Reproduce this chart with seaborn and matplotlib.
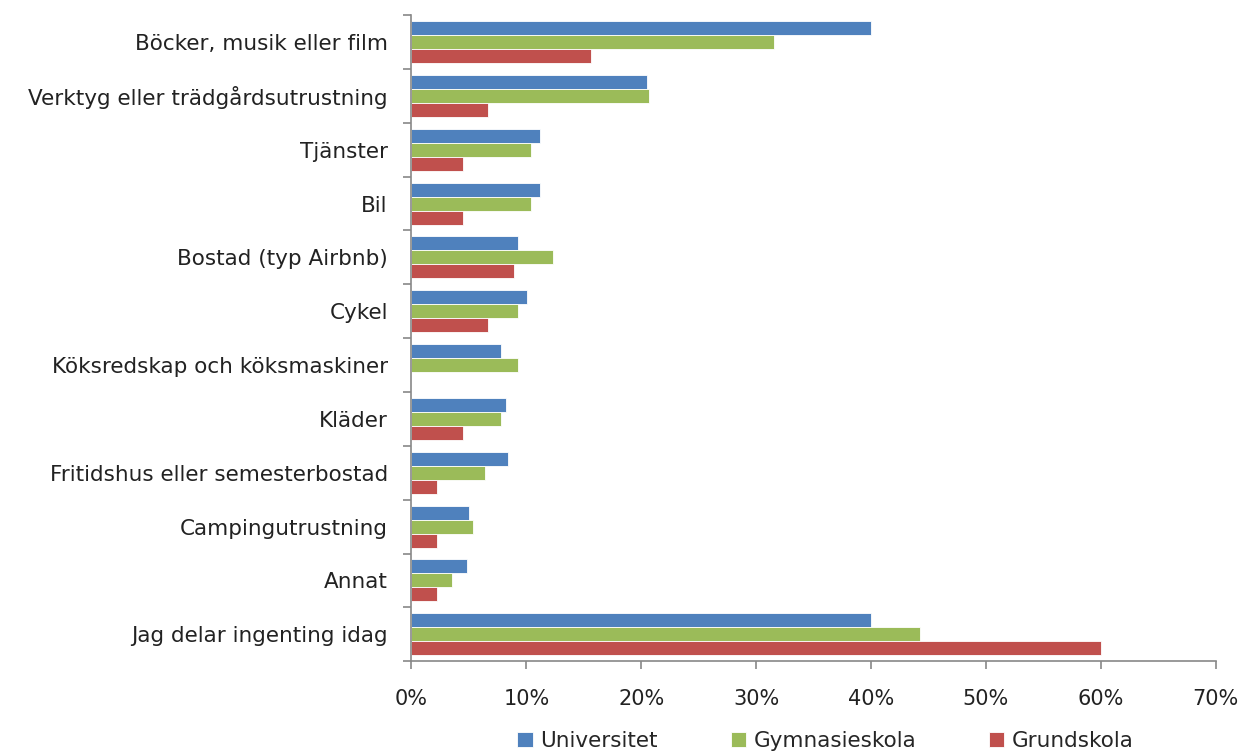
import matplotlib.pyplot as plt
import numpy as np
import pandas as pd
import seaborn as sns
from matplotlib.ticker import PercentFormatter

categories = ['Böcker, musik eller film', 'Verktyg eller trädgårdsutrustning', 'Tjänster', 'Bil',
              'Bostad (typ Airbnb)', 'Cykel', 'Köksredskap och köksmaskiner', 'Kläder',
              'Fritidshus eller semesterbostad', 'Campingutrustning', 'Annat', 'Jag delar ingenting idag']
universitet = [40.0, 20.5, 11.2, 11.2, 9.3, 10.1, 7.8, 8.2, 8.4, 5.0, 4.8, 40.0]
gymnasieskola = [31.6, 20.7, 10.4, 10.4, 12.3, 9.3, 9.3, 7.8, 6.4, 5.4, 3.5, 44.3]
grundskola = [15.6, 6.7, 4.5, 4.5, 8.9, 6.7, 0.0, 4.5, 2.2, 2.2, 2.2, 60.0]
series = ['Universitet', 'Gymnasieskola', 'Grundskola']
colors = ['#4F81BD', '#9BBB59', '#C0504D']

# long form table for seaborn
df = pd.DataFrame({'Kategori': categories * 3,
                   'Grupp': np.repeat(series, len(categories)),
                   'Andel': universitet + gymnasieskola + grundskola})

sns.set_theme(style='white')
plt.rcParams['font.family'] = ['DejaVu Sans']

fig = plt.figure(figsize=(12.43, 7.54), dpi=100)
ax = fig.add_axes([0.331, 0.123, 0.647, 0.857])

sns.barplot(data=df, y='Kategori', x='Andel', hue='Grupp', order=categories, hue_order=series,
            palette=colors, orient='h', width=0.78, saturation=1, ax=ax,
            edgecolor='white', linewidth=0.6)

ax.set_xlim(0, 70)
ax.set_ylim(len(categories) - 0.5, -0.5)
ax.set_xticks(np.arange(0, 71, 10))
ax.xaxis.set_major_formatter(PercentFormatter(decimals=0))
ax.set_xlabel('')
ax.set_ylabel('')

# category labels without ticks, tick marks at the boundaries
ax.tick_params(axis='y', which='major', left=True, length=0, labelsize=15.5, pad=17, colors='#222222')
ax.set_yticks(np.arange(-0.5, len(categories)), minor=True)
ax.tick_params(axis='y', which='minor', left=True, length=6, width=1.2, color='#888888', direction='out')
ax.tick_params(axis='x', bottom=True, length=6, width=1.2, color='#888888', direction='out', labelsize=15,
               pad=14, labelcolor='#222222')

sns.despine(ax=ax, top=True, right=True)
for side in ['left', 'bottom']:
    ax.spines[side].set_color('#888888')
    ax.spines[side].set_linewidth(1.2)

ax.legend(loc='center', bbox_to_anchor=(0.515, -0.124), ncol=3, frameon=False,
          fontsize=15.5, handlelength=0.7, handleheight=0.7, columnspacing=3.4, handletextpad=0.35,
          borderpad=0)

fig.savefig('out.png', dpi=100)
